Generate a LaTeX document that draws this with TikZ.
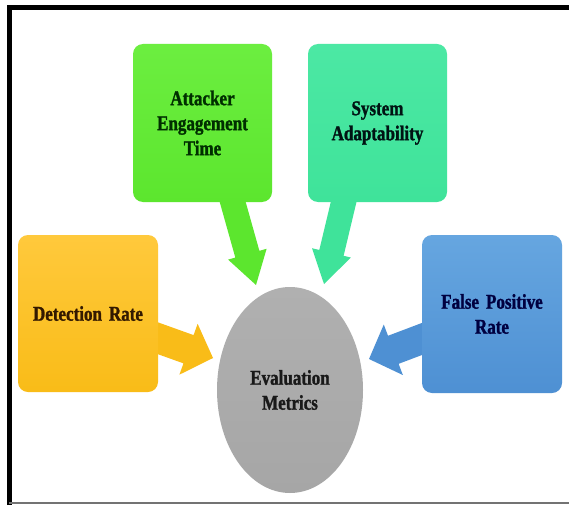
\documentclass[tikz,border=0pt]{standalone}
\usepackage{fontspec}
\newfontfamily\lblfont{Liberation Serif}[FakeStretch=0.81, FakeBold=1.3, WordSpace=0.7]
\usetikzlibrary{calc,shapes.geometric}
\pgfdeclarelayer{bg}
\pgfsetlayers{bg,main}
\definecolor{cgreen}{HTML}{5CE62E}
\definecolor{cgreenT}{HTML}{6CEE40}
\definecolor{cteal}{HTML}{3FE39A}
\definecolor{ctealT}{HTML}{4CE8A4}
\definecolor{corange}{HTML}{F9BC18}
\definecolor{corangeT}{HTML}{FFC93C}
\definecolor{cblue}{HTML}{4E90D3}
\definecolor{cblueT}{HTML}{66A6E0}
\definecolor{cgray}{HTML}{A6A6A6}
\definecolor{cgrayT}{HTML}{B0B0B0}
\newcommand{\blockarrow}[6]{%
  \coordinate (hb) at ($(#2)!#5!(#1)$);
  \fill[#6] (#2) -- ($(hb)!#4!90:(#2)$) -- ($(hb)!#3!90:(#2)$) -- ($(#1)!#3!90:(#2)$)
    -- ($(#1)!#3!-90:(#2)$) -- ($(hb)!#3!-90:(#2)$) -- ($(hb)!#4!-90:(#2)$) -- cycle;}
\tikzset{
  box/.style={rounded corners=10pt, minimum width=139pt, minimum height=158pt, inner sep=0pt,
    align=center, text width=130pt, font=\lblfont\bfseries\fontsize{21}{25}\selectfont},
}
\begin{document}
\begin{tikzpicture}[x=1pt,y=-1pt]
\useasboundingbox (0,0) rectangle (569,505);
% nodes
\node[box, top color=cgreenT, bottom color=cgreen, text=black!70!green!60!black] (att) at (202.5,123) {Attacker\\Engagement\\Time};
\node[box, top color=ctealT, bottom color=cteal, text=black!85!teal] (sys) at (377.5,123) {System\\Adaptability};
\node[box, minimum width=140pt, minimum height=157pt, top color=corangeT, bottom color=corange, text=black!80!orange] (det) at (88,313.5) {Detection Rate};
\node[box, minimum width=140pt, minimum height=158pt, top color=cblueT, bottom color=cblue, text=black!75!blue] (fp) at (492,314) {False Positive\\Rate};
\node[ellipse, minimum width=146pt, minimum height=206pt, inner sep=0pt, top color=cgrayT, bottom color=cgray,
  align=center, font=\lblfont\bfseries\fontsize{21}{25}\selectfont, text=black!90] (ev) at (290,390) {Evaluation\\Metrics};
% arrow ends
\coordinate (s1) at ($(att.south)+(28,-8)$);
\coordinate (t1) at (256,285);
\coordinate (s2) at ($(sys.south)+(-32,-8)$);
\coordinate (t2) at (324,284);
\coordinate (s3) at ($(det.east)+(-8,22)$);
\coordinate (t3) at (213,358);
\coordinate (s4) at ($(fp.west)+(8,22)$);
\coordinate (t4) at (369,359);
\begin{pgfonlayer}{bg}
\fill[white] (0,0) rectangle (569,505);
\blockarrow{s1}{t1}{12.5pt}{20pt}{32pt}{cgreen}
\blockarrow{s2}{t2}{12.5pt}{20pt}{32pt}{cteal}
\blockarrow{s3}{t3}{15pt}{27pt}{26pt}{corange}
\blockarrow{s4}{t4}{15pt}{27pt}{26pt}{cblue}
\end{pgfonlayer}
% frame
\draw[line width=5pt] (9.5,505) -- (9.5,7.5) -- (569,7.5);
\draw[line width=2pt, color=black!55] (9,503) -- (569,503);
\end{tikzpicture}
\end{document}
